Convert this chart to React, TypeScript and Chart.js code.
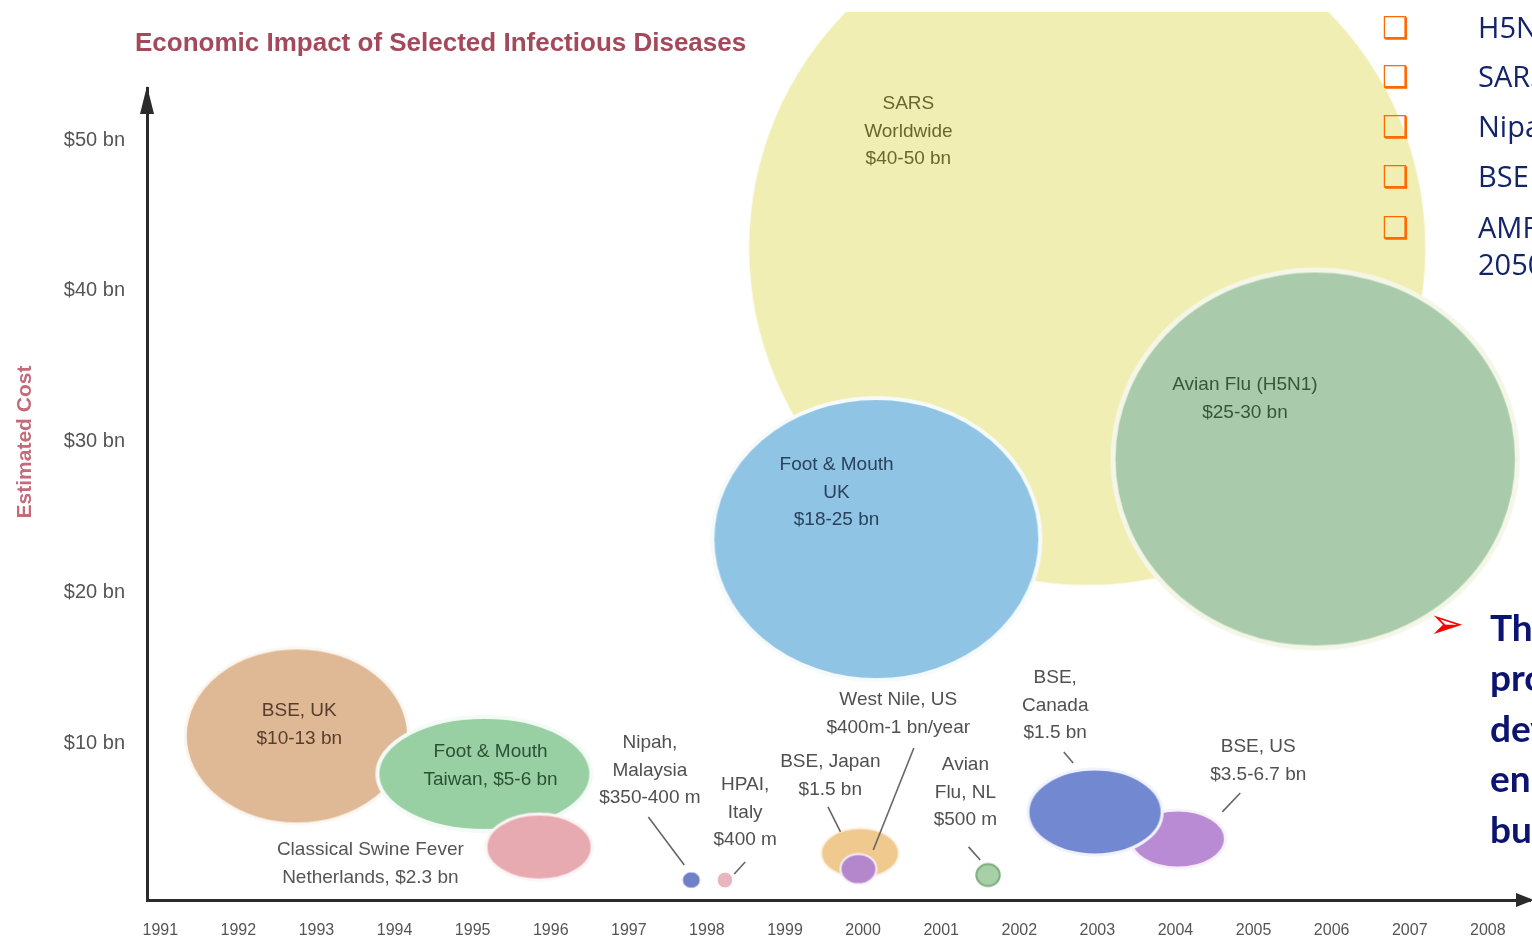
import React, { useEffect, useRef } from 'react';
import { Chart, registerables } from 'chart.js';

Chart.register(...registerables);

// ---------------- data ----------------
const chartTitle = 'Economic Impact of Selected Infectious Diseases';
const yAxisTitle = 'Estimated Cost';

const yearTicks = [1991, 1992, 1993, 1994, 1995, 1996, 1997, 1998, 1999, 2000, 2001, 2002, 2003, 2004, 2005, 2006, 2007, 2008];
const costTicks = [10, 20, 30, 40, 50];
const costTickLabels = ['$10 bn', '$20 bn', '$30 bn', '$40 bn', '$50 bn'];

// drawing order: first = back
const diseases = [
  'SARS Worldwide', 'Avian Flu (H5N1)', 'Foot & Mouth UK', 'BSE, UK', 'Foot & Mouth Taiwan',
  'Classical Swine Fever Netherlands', 'Nipah, Malaysia', 'HPAI, Italy', 'BSE, Japan', 'West Nile, US',
  'Avian Flu, NL', 'BSE, US', 'BSE, Canada',
];
const bubbleYear = [2002.87, 2005.79, 2000.17, 1992.75, 1995.15, 1995.85, 1997.8, 1998.23, 1999.96, 1999.94, 2001.6, 2004.03, 2002.97];
const bubbleCost = [42.84, 28.84, 23.53, 10.47, 7.95, 3.1, 0.91, 0.91, 2.7, 1.64, 1.24, 3.63, 5.42];
const bubbleHalfYears = [4.33, 2.59, 2.1, 1.43, 1.37, 0.68, 0.115, 0.1, 0.5, 0.23, 0.15, 0.61, 0.86];
const bubbleHalfCost = [22.36, 12.54, 9.35, 5.84, 3.78, 2.19, 0.55, 0.53, 1.66, 1.0, 0.73, 1.92, 2.85];

const labelText = [
  ['SARS', 'Worldwide', '$40-50 bn'],
  ['Avian Flu (H5N1)', '$25-30 bn'],
  ['Foot & Mouth', 'UK', '$18-25 bn'],
  ['BSE, UK', '$10-13 bn'],
  ['Foot & Mouth', 'Taiwan, $5-6 bn'],
  ['Classical Swine Fever', 'Netherlands, $2.3 bn'],
  ['Nipah,', 'Malaysia', '$350-400 m'],
  ['HPAI,', 'Italy', '$400 m'],
  ['BSE, Japan', '$1.5 bn'],
  ['West Nile, US', '$400m-1 bn/year'],
  ['Avian', 'Flu, NL', '$500 m'],
  ['BSE, US', '$3.5-6.7 bn'],
  ['BSE,', 'Canada', '$1.5 bn'],
];
const labelYear = [2000.58, 2004.89, 1999.66, 1992.78, 1995.23, 1993.69, 1997.27, 1998.49, 1999.58, 2000.45, 2001.31, 2005.06, 2002.46];
const labelCost = [52.39, 33.75, 28.44, 12.12, 9.4, 2.9, 10.0, 7.21, 8.74, 12.85, 8.54, 9.73, 14.31];
const leaderFrom = [null, null, null, null, null, null, [1997.25, 5.09], [1998.49, 2.11], [1999.55, 5.76], [2000.65, 9.67], [2001.35, 3.11], [2004.83, 6.68], [2002.57, 9.4]];
const leaderTo = [null, null, null, null, null, null, [1997.71, 1.91], [1998.35, 1.31], [1999.71, 4.11], [2000.13, 2.9], [2001.5, 2.24], [2004.6, 5.43], [2002.69, 8.67]];

const bulletItems = ['H5N1 Avian Influenza', 'SARS Coronavirus', 'Nipah Virus', 'BSE (Mad Cow Disease)', 'AMR: 10 million deaths a year by'];
const bulletWrap = '2050';
const keyPointLines = ['The economic', 'problems of', 'developing', 'enormous', 'burden'];

// ---------------- styles ----------------
const bubbleFill = ['#f1eeb3', '#a9cbab', '#8fc4e4', '#dfb895', '#98cfa3', '#e8aab1', '#6f80c6', '#e9b6bd', '#f0c98f', '#b487cd', '#a8d0a8', '#b98bd4', '#7289d2'];
const bubbleEdge = ['rgba(255,255,255,0)', '#f4f7e8', '#f6fafa', '#fbf6f0', '#f4faf5', '#fbf4f5', '#ffffff', '#ffffff', '#fdf5ea', '#f6eef9', '#7fae80', '#f8f1fb', '#f1f3fb'];
const bubbleEdgeWidth = [0, 5, 4, 3, 4, 3, 1, 1, 2, 2, 2, 3, 3];
const labelColor = ['#6a6630', '#37563a', '#2a425c', '#573e2c', '#2b5234', '#555555', '#505050', '#505050', '#505050', '#505050', '#505050', '#505050', '#505050'];

const spriteCache: Record<string, HTMLCanvasElement> = {};
function ellipseSprite(rx: number, ry: number, fill: string, edge: string, edgeWidth: number) {
  const key = [rx.toFixed(1), ry.toFixed(1), fill, edge, edgeWidth].join('|');
  if (spriteCache[key]) return spriteCache[key];
  const pad = edgeWidth + 2;
  const c = document.createElement('canvas');
  c.width = Math.ceil(2 * rx + 2 * pad);
  c.height = Math.ceil(2 * ry + 2 * pad);
  const g = c.getContext('2d') as CanvasRenderingContext2D;
  g.beginPath();
  g.ellipse(c.width / 2, c.height / 2, rx, ry, 0, 0, Math.PI * 2);
  g.fillStyle = fill;
  g.fill();
  if (edgeWidth > 0) {
    g.lineWidth = edgeWidth;
    g.strokeStyle = edge;
    g.stroke();
  }
  spriteCache[key] = c;
  return c;
}

const overlayPlugin = {
  id: 'overlay',
  afterDatasetsDraw(chart: any) {
    const { ctx, chartArea: a, scales } = chart;
    const xs = scales.x;
    const ys = scales.y;
    ctx.save();
    // leaders
    ctx.strokeStyle = '#666666';
    ctx.lineWidth = 1.6;
    leaderFrom.forEach((f, i) => {
      const t = leaderTo[i];
      if (!f || !t) return;
      ctx.beginPath();
      ctx.moveTo(xs.getPixelForValue(f[0]), ys.getPixelForValue(f[1]));
      ctx.lineTo(xs.getPixelForValue(t[0]), ys.getPixelForValue(t[1]));
      ctx.stroke();
    });
    // labels
    ctx.font = '19px "Liberation Sans", Arial, sans-serif';
    ctx.textAlign = 'center';
    ctx.textBaseline = 'middle';
    labelText.forEach((lines, i) => {
      const px = xs.getPixelForValue(labelYear[i]);
      const py = ys.getPixelForValue(labelCost[i]);
      ctx.fillStyle = labelColor[i];
      lines.forEach((ln, k) => ctx.fillText(ln, px, py + k * 27.5));
    });
    // axis arrows
    ctx.fillStyle = '#2b2b2b';
    ctx.beginPath();
    ctx.moveTo(a.left, a.top - 2);
    ctx.lineTo(a.left - 7, a.top + 26);
    ctx.lineTo(a.left + 7, a.top + 26);
    ctx.closePath();
    ctx.fill();
    ctx.beginPath();
    ctx.moveTo(a.right + 4, a.bottom);
    ctx.lineTo(a.right - 14, a.bottom - 7);
    ctx.lineTo(a.right - 14, a.bottom + 7);
    ctx.closePath();
    ctx.fill();
    ctx.restore();
  },
  afterDraw(chart: any) {
    const { ctx } = chart;
    ctx.save();
    // title
    ctx.font = 'bold 26px "Liberation Sans", Arial, sans-serif';
    ctx.fillStyle = '#a4495c';
    ctx.textAlign = 'left';
    ctx.textBaseline = 'middle';
    ctx.fillText(chartTitle, 135, 44);
    // y axis title
    ctx.save();
    ctx.translate(25, 442);
    ctx.rotate(-Math.PI / 2);
    ctx.font = 'bold 21px "Liberation Sans", Arial, sans-serif';
    ctx.fillStyle = '#c46a7a';
    ctx.textAlign = 'center';
    ctx.fillText(yAxisTitle, 0, 0);
    ctx.restore();
    // slide bullets
    const bulletY = [30, 79, 129, 179, 230];
    bulletItems.forEach((t, i) => {
      ctx.font = '30px "DejaVu Sans", sans-serif';
      ctx.fillStyle = '#ff6a00';
      ctx.textAlign = 'left';
      ctx.fillText('\u2751', 1382, bulletY[i]);
      ctx.font = '29px "Open Sans", "Noto Sans", sans-serif';
      ctx.fillStyle = '#13246a';
      ctx.fillText(t, 1478, bulletY[i]);
    });
    ctx.fillText(bulletWrap, 1478, 267);
    // key point
    ctx.font = '42px "DejaVu Sans", sans-serif';
    ctx.fillStyle = '#ff0000';
    ctx.fillText('\u27A2', 1429, 627);
    ctx.font = 'bold 37px Lato, "Open Sans", sans-serif';
    ctx.fillStyle = '#0b1470';
    keyPointLines.forEach((t, i) => ctx.fillText(t, 1490, 629 + i * 50.5));
    ctx.restore();
  },
};

export default function App() {
  const canvasRef = useRef<HTMLCanvasElement | null>(null);

  useEffect(() => {
    document.body.style.margin = '0';
    const canvas = canvasRef.current;
    if (!canvas) return;
    const chart = new Chart(canvas, {
      type: 'bubble',
      data: {
        datasets: [
          {
            label: 'Economic impact',
            data: diseases.map((_, i) => ({ x: bubbleYear[i], y: bubbleCost[i] })),
            radius: 4,
            borderWidth: 0,
            clip: { left: false, top: 76, right: false, bottom: false } as any,
            backgroundColor: (c: any) => bubbleFill[c.dataIndex] || '#ccc',
            pointStyle: (c: any) => {
              const i = c.dataIndex;
              if (i === undefined || i === null) return 'circle';
              const xs = c.chart.scales.x;
              const ys = c.chart.scales.y;
              if (!xs || !ys) return 'circle';
              const rx = Math.abs(xs.getPixelForValue(bubbleYear[i] + bubbleHalfYears[i]) - xs.getPixelForValue(bubbleYear[i]));
              const ry = Math.abs(ys.getPixelForValue(bubbleCost[i] + bubbleHalfCost[i]) - ys.getPixelForValue(bubbleCost[i]));
              if (!isFinite(rx) || !isFinite(ry) || rx < 1 || ry < 1) return 'circle';
              return ellipseSprite(rx, ry, bubbleFill[i], bubbleEdge[i], bubbleEdgeWidth[i]);
            },
          } as any,
        ],
      },
      options: {
        animation: false,
        responsive: false,
        events: [],
        layout: { autoPadding: false, padding: { top: 88, right: 2, left: 0, bottom: 0 } },
        plugins: { legend: { display: false }, tooltip: { enabled: false }, title: { display: false } },
        scales: {
          x: {
            type: 'linear',
            min: 1990.83,
            max: 2008.54,
            grid: { display: false, drawTicks: false },
            border: { display: true, color: '#2b2b2b', width: 3 },
            afterBuildTicks: (s: any) => { s.ticks = yearTicks.map((v) => ({ value: v })); },
            afterFit: (s: any) => { s.height = 44; },
            ticks: {
              autoSkip: false,
              maxRotation: 0,
              padding: 21,
              color: '#555',
              font: { family: '"Liberation Sans", Arial, sans-serif', size: 16 },
              callback: (v: any) => String(v),
            },
          },
          y: {
            type: 'linear',
            min: -0.415,
            max: 53.45,
            grid: { display: false, drawTicks: false },
            border: { display: true, color: '#2b2b2b', width: 3 },
            afterBuildTicks: (s: any) => { s.ticks = costTicks.map((v) => ({ value: v })); },
            afterFit: (s: any) => { s.width = 147; },
            ticks: {
              padding: 22,
              color: '#555',
              font: { family: '"Liberation Sans", Arial, sans-serif', size: 20 },
              callback: (v: any) => costTickLabels[costTicks.indexOf(v)] ?? '',
            },
          },
        },
      },
      plugins: [overlayPlugin],
    } as any);
    return () => chart.destroy();
  }, []);

  return (
    <div style={{ position: 'absolute', left: 0, top: 0, width: 1532, height: 944, background: '#fff' }}>
      <canvas ref={canvasRef} width={1532} height={944} style={{ display: 'block' }} />
    </div>
  );
}
